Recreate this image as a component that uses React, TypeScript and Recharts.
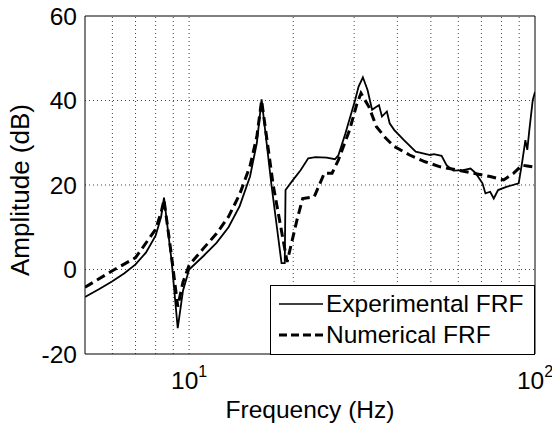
import React from "react";
import { LineChart, Line, XAxis, YAxis, ReferenceLine, Label } from "recharts";

// ---- Data ----
const expFreq = [5, 5.5, 6, 6.5, 7, 7.5, 8, 8.3, 8.46, 8.9, 9.27, 9.6, 10, 11, 12, 13, 14, 15, 15.7, 16.2, 17.3, 18.5, 18.9, 19.0, 19.8, 21, 22.1, 23.2, 25, 26.4, 27, 28.3, 30.2, 30.9, 31.8, 32.8, 33.8, 34.8, 35.4, 36.1, 37.3, 38.0, 39.2, 41.8, 45.2, 49.8, 51, 53.7, 55.5, 58.1, 62, 65.1, 67.4, 70.5, 71.9, 74.2, 76, 78.2, 83, 89.7, 91.7, 93.8, 95, 96.3, 98.5, 100];
const expAmp = [-6.5, -4.6, -2.8, -0.9, 1.2, 4.0, 8.0, 12.5, 17.0, 2, -13.9, -5, 0, 3.2, 6.3, 10.0, 15.0, 22.0, 30.0, 40.3, 20, 1.5, 1.5, 18.8, 20.8, 23.5, 26.3, 26.6, 26.5, 26.1, 27, 32.2, 40.1, 43.3, 45.5, 42.5, 37.8, 38.5, 38.9, 36.2, 37.4, 34.6, 33.0, 30.6, 27.9, 27.1, 27.3, 26.9, 24.7, 23.4, 23.5, 23.9, 22.8, 20.4, 18.0, 18.4, 16.8, 18.8, 19.6, 20.4, 25.1, 30.6, 28.3, 33, 40.1, 42];

const numFreq = [5, 6, 7, 8, 8.3, 8.46, 8.9, 9.27, 9.6, 10, 11, 12, 13, 14, 15, 15.7, 16.2, 17.5, 19.2, 20.5, 21.3, 23, 24.6, 25.9, 27, 29.1, 30.5, 31.4, 33.1, 34.8, 37, 39.2, 43.4, 48.1, 53.2, 59.1, 66.1, 74.2, 81.2, 86.8, 91.7, 95, 100];
const numAmp = [-4.2, -0.3, 2.8, 9.5, 13.5, 16.5, 3, -8.8, -3, 1, 5, 8.5, 12.5, 17.8, 24.5, 31.5, 40, 20, 1.8, 11.7, 16.8, 17.2, 22.8, 22.8, 25.9, 33, 39, 41.7, 38.5, 33.8, 31.1, 29.1, 27.1, 25.5, 24.3, 23.6, 22.8, 22.0, 21.2, 22.8, 24.7, 24.5, 24.2];

const xTicks = [10, 100];
const yTicks = [-20, 0, 20, 40, 60];
const xGrid = [6, 7, 8, 9, 10, 20, 30, 40, 50, 60, 70, 80, 90];
const yGrid = [0, 20, 40];
const seriesNames = ["Experimental FRF", "Numerical FRF"];
const xLabel = "Frequency (Hz)";
const yLabel = "Amplitude (dB)";

const expData = expFreq.map((f, i) => ({ f, a: expAmp[i] }));
const numData = numFreq.map((f, i) => ({ f, a: numAmp[i] }));

const FONT = "'Liberation Sans', Arial, sans-serif";
const FS = 24.5;

const XTick = (props: any) => {
  const { x, y, payload } = props;
  const exp = Math.round(Math.log10(payload.value));
  return (
    <text x={x} y={y + 27} textAnchor="middle" fontFamily={FONT} fontSize={FS} fill="#000">
      10
      <tspan dy={-12} fontSize={16}>{exp}</tspan>
    </text>
  );
};

const YLabelContent = (props: any) => {
  const vb = props.viewBox || {};
  const cy = (vb.y ?? 16) + (vb.height ?? 338) / 2 + 5;
  const cx = 29;
  return (
    <text
      x={cx}
      y={cy}
      transform={`rotate(-90 ${cx} ${cy})`}
      textAnchor="middle"
      fontFamily={FONT}
      fontSize={26}
      fill="#000"
    >
      {yLabel}
    </text>
  );
};

export default function App() {
  return (
    <div style={{ position: "absolute", left: 0, top: 0, width: 552, height: 424, background: "#fff" }}>
      <LineChart
        width={552}
        height={424}
        margin={{ top: 16, right: 17, left: 0, bottom: 0 }}
        style={{ fontFamily: FONT }}
      >
        <XAxis
          type="number"
          dataKey="f"
          scale="log"
          domain={[5, 100]}
          allowDataOverflow
          ticks={xTicks}
          tick={<XTick />}
          tickLine={false}
          axisLine={{ stroke: "#000", strokeWidth: 1 }}
          height={70}
        >
          <Label value={xLabel} position="insideBottom" offset={6} fontSize={FS} fill="#000" fontFamily={FONT} />
        </XAxis>
        <YAxis
          type="number"
          dataKey="a"
          domain={[-20, 60]}
          ticks={yTicks}
          allowDataOverflow
          tickLine={false}
          tick={{ fontSize: FS, fill: "#000", fontFamily: FONT }}
          axisLine={{ stroke: "#000", strokeWidth: 1 }}
          width={85}
        >
          <Label content={<YLabelContent />} />
        </YAxis>
        {xGrid.map((g) => (
          <ReferenceLine key={"gx" + g} x={g} stroke="#444" strokeWidth={1} strokeDasharray="1 3" />
        ))}
        {yGrid.map((g) => (
          <ReferenceLine key={"gy" + g} y={g} stroke="#444" strokeWidth={1} strokeDasharray="1 3" />
        ))}
        <ReferenceLine y={60} stroke="#000" strokeWidth={1} />
        <ReferenceLine x={100} stroke="#000" strokeWidth={1} />
        <Line
          data={expData}
          dataKey="a"
          name={seriesNames[0]}
          type="linear"
          stroke="#000"
          strokeWidth={1.8}
          dot={false}
          isAnimationActive={false}
        />
        <Line
          data={numData}
          dataKey="a"
          name={seriesNames[1]}
          type="linear"
          stroke="#000"
          strokeWidth={3}
          strokeDasharray="9 5"
          dot={false}
          isAnimationActive={false}
        />
      </LineChart>
      <div
        style={{
          position: "absolute",
          left: 270,
          top: 285,
          width: 265,
          height: 70,
          boxSizing: "border-box",
          border: "1px solid #000",
          background: "#fff",
          fontFamily: FONT,
          fontSize: FS,
          color: "#000",
        }}
      >
        {seriesNames.map((n, i) => (
          <div key={n} style={{ position: "absolute", left: 8, top: i === 0 ? 4 : 35, height: 28, display: "flex", alignItems: "center", whiteSpace: "nowrap" }}>
            <svg width={44} height={10} style={{ marginRight: 3 }}>
              <line x1={0} y1={5} x2={44} y2={5} stroke="#000" strokeWidth={i === 0 ? 1.5 : 3} strokeDasharray={i === 0 ? undefined : "8 4"} />
            </svg>
            <span>{n}</span>
          </div>
        ))}
      </div>
    </div>
  );
}
